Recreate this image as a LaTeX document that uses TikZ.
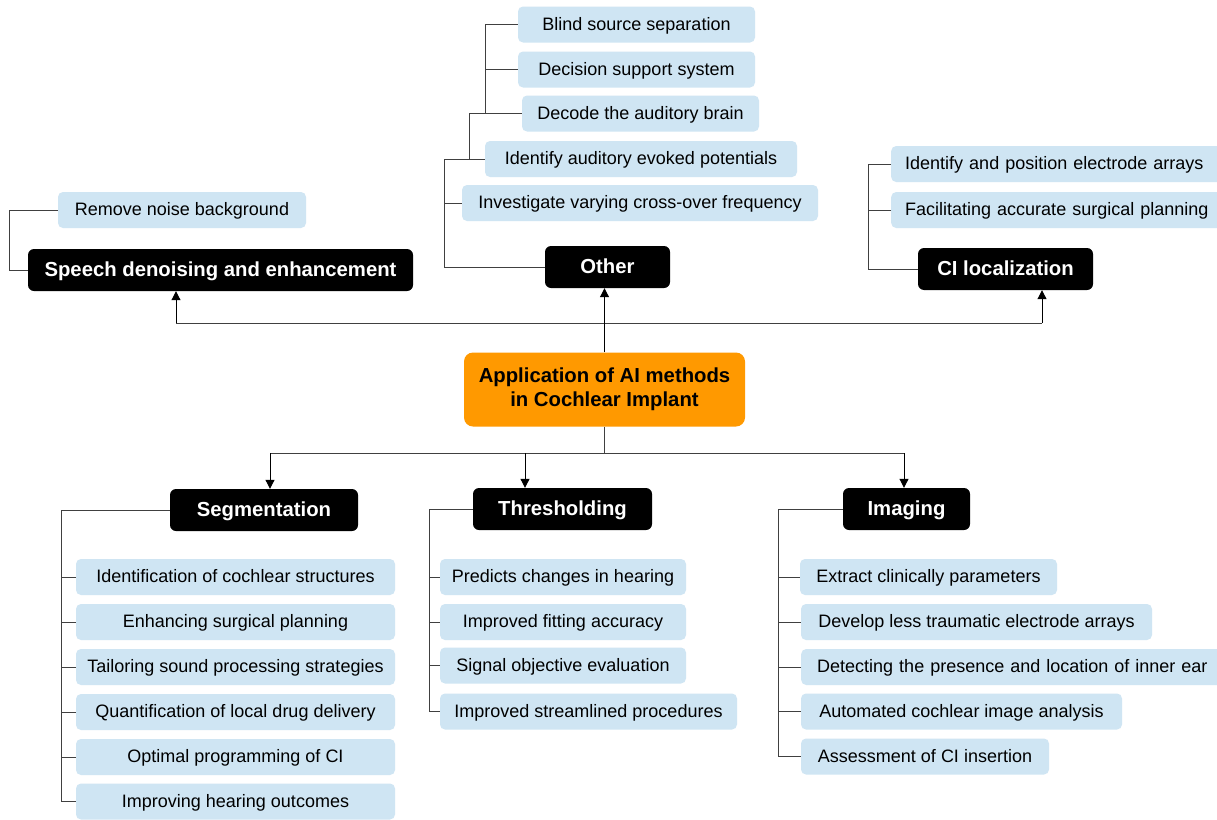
\documentclass[tikz,border=0pt]{standalone}
\usepackage{fontspec}
\setmainfont{Liberation Sans}
\usetikzlibrary{arrows.meta,calc}
\definecolor{lb}{HTML}{CFE5F3}
\definecolor{orng}{HTML}{FF9900}
\definecolor{ln}{HTML}{404040}
\newcommand\lfnt{\fontsize{18}{21}\selectfont}
\newcommand\hfnt{\fontsize{20.3}{24}\selectfont\bfseries}
\begin{document}
\begin{tikzpicture}[x=1pt,y=-1pt,
  leaf/.style={fill=lb, rounded corners=5pt, minimum height=36pt, inner sep=0pt, font=\lfnt, text=black, text height=13pt, text depth=2pt},
  lleaf/.style={leaf, anchor=west, align=left, inner xsep=14pt, text width=#1},
  head/.style={fill=black, rounded corners=6pt, minimum height=42pt, inner sep=0pt, font=\hfnt, text=white, text height=14.5pt, text depth=1.5pt},
  conn/.style={draw=ln, line width=1pt},
  arr/.style={draw=black, line width=1pt, -{Triangle[width=9pt,length=9pt]}}]
\useasboundingbox (0,0) rectangle (1217,819);
\fill[white] (0,0) rectangle (1217,819);

% root
\node[fill=orng, rounded corners=9pt, minimum width=281pt, minimum height=74pt, inner sep=0pt, align=center, font=\hfnt] (root) at (604.5,389.5) {Application of AI methods\\in Cochlear Implant};

% top heads
\node[head, minimum width=385pt] (sp) at (220.5,270) {Speech denoising and enhancement};
\node[head, minimum width=125pt] (other) at (607.5,267) {Other};
\node[head, minimum width=175pt] (ci) at (1005.5,269) {CI localization};

% bottom heads
\node[head, minimum width=188pt] (seg) at (264,510) {Segmentation};
\node[head, minimum width=179pt] (thr) at (562.5,509) {Thresholding};
\node[head, minimum width=127pt] (img) at (906.5,509) {Imaging};

% speech leaves
\node[leaf, minimum width=248pt] (rm) at (182,210) {Remove noise background};

% other leaves
\node[leaf, minimum width=237pt] (bs) at (636.5,24.5) {Blind source separation};
\node[leaf, minimum width=237pt] (ds) at (636.5,69.5) {Decision support system};
\node[leaf, minimum width=237pt] (dab) at (640.5,113.5) {Decode the auditory brain};
\node[leaf, minimum width=312pt] (iae) at (641,159) {Identify auditory evoked potentials};
\node[leaf, minimum width=356pt] (ivc) at (640,203) {Investigate varying cross-over frequency};

% CI leaves
\node[lleaf=330pt] (ip) at (891,164) {Identify and position electrode arrays};
\node[lleaf=330pt] (fa) at (891,210) {Facilitating accurate surgical planning};

% segmentation leaves
\node[leaf, minimum width=319pt] (s1) at (235.5,577) {Identification of cochlear structures};
\node[leaf, minimum width=319pt] (s2) at (235.5,622) {Enhancing surgical planning};
\node[leaf, minimum width=319pt] (s3) at (235.5,667) {Tailoring sound processing strategies};
\node[leaf, minimum width=319pt] (s4) at (235.5,712) {Quantification of local drug delivery};
\node[leaf, minimum width=319pt] (s5) at (235.5,757) {Optimal programming of CI};
\node[leaf, minimum width=319pt] (s6) at (235.5,801.5) {Improving hearing outcomes};

% thresholding leaves
\node[leaf, minimum width=246pt] (t1) at (563,577) {Predicts changes in hearing};
\node[leaf, minimum width=246pt] (t2) at (563,622) {Improved fitting accuracy};
\node[leaf, minimum width=246pt] (t3) at (563,665.5) {Signal objective evaluation};
\node[leaf, minimum width=297pt] (t4) at (588.5,711.5) {Improved streamlined procedures};

% imaging leaves
\node[leaf, minimum width=257pt] (i1) at (928.5,577) {Extract clinically parameters};
\node[leaf, minimum width=351pt] (i2) at (976.5,622) {Develop less traumatic electrode arrays};
\node[lleaf=420pt, inner xsep=16pt] (i3) at (801,667) {Detecting the presence and location of inner ear};
\node[leaf, minimum width=321pt] (i4) at (961.5,711.5) {Automated cochlear image analysis};
\node[leaf, minimum width=248pt] (i5) at (925,756.5) {Assessment of CI insertion};

% connectors: top
\coordinate (tl) at (176,323);
\coordinate (tr) at (1042,323);
\draw[conn] (tl) -- (tr);
\draw[arr] (tl) -- (tl |- sp.south);
\draw[arr] (tr) -- (tr |- ci.south);
\draw[arr] (root.north) -- (root.north |- other.south);

% connectors: bottom
\coordinate (bl) at (270,453);
\coordinate (bm) at (525,453);
\coordinate (br) at (904,453);
\draw[conn] (root.south) -- (root.south |- bl);
\draw[conn] (bl) -- (br);
\draw[arr] (bl) -- (bl |- seg.north);
\draw[arr] (bm) -- (bm |- thr.north);
\draw[arr] (br) -- (br |- img.north);

% speech tree
\draw[conn] (rm.west) -- ++(-48,0) |- (sp.west);

% other tree
\draw[conn] (bs.west) -- ++(-32,0) |- (dab.west);
\draw[conn] (ds.west) -- ++(-32,0);
\draw[conn] (dab.west) ++(-36,0) -- ++(-16,0) |- (iae.west);
\draw[conn] (iae.west) ++(-15,0) -- ++(-25,0) |- (other.west);
\draw[conn] (ivc.west) -- ++(-17,0);

% CI tree
\draw[conn] (ip.west) -- ++(-23,0) |- (ci.west);
\draw[conn] (fa.west) -- ++(-23,0);

% segmentation tree
\draw[conn] (seg.west) -- ++(-108,0) |- (s6.west);
\foreach \n in {s1,s2,s3,s4,s5} \draw[conn] (\n.west) -- ++(-14,0);

% thresholding tree
\draw[conn] (thr.west) -- ++(-43,0) |- (t4.west);
\foreach \n in {t1,t2,t3} \draw[conn] (\n.west) -- ++(-10,0);

% imaging tree
\draw[conn] (img.west) -- ++(-64,0) |- (i5.west);
\draw[conn] (i1.west) -- ++(-21,0);
\foreach \n in {i2,i3,i4} \draw[conn] (\n.west) -- ++(-22,0);
\end{tikzpicture}
\end{document}
